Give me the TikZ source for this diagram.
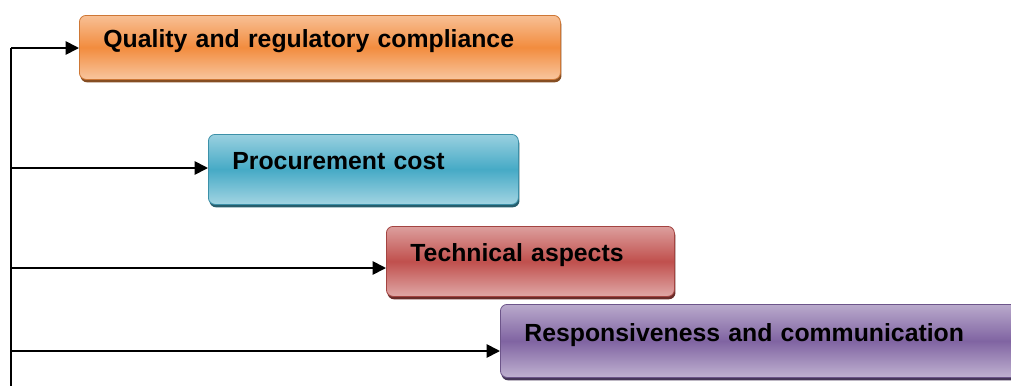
\documentclass[tikz,border=0pt]{standalone}
\usepackage{fontspec}
\setmainfont{Liberation Sans}
\usetikzlibrary{arrows.meta,shadows}

\definecolor{qualbase}{RGB}{242,140,62}
\definecolor{procbase}{RGB}{70,170,198}
\definecolor{techbase}{RGB}{192,80,77}
\definecolor{respbase}{RGB}{128,100,162}

\tikzset{
  factor/.style={rounded corners=5pt, draw=#1!85!black, line width=0.6pt,
    top color=#1!55!white, bottom color=#1!50!white, middle color=#1,
    drop shadow={shadow xshift=0.8pt, shadow yshift=-2.2pt, fill=#1!55!black, opacity=1},
    anchor=north west, inner xsep=18pt, align=left, text depth=13pt,
    font=\fontsize{18.6}{20}\selectfont\bfseries},
  flow/.style={line width=1.3pt, -{Triangle[length=10pt,width=10pt]}}
}

\begin{document}
\begin{tikzpicture}[x=0.75pt,y=-0.75pt]
\clip (0,0) rectangle (1011,386);
\foreach \x/\y/\w/\h/\c/\n/\t in {79/15/481/64/qualbase/qual/Quality and regulatory compliance,
                                  208/134/310/70/procbase/proc/Procurement cost,
                                  386/226/288/70/techbase/tech/Technical aspects,
                                  500/304/560/73/respbase/resp/Responsiveness and communication}
    \node[factor=\c, minimum width=\w*0.75pt, minimum height=\h*0.75pt,
          text width=\w*0.75pt-36pt] (\n) at (\x,\y) {\t};
% trunk on the left
\coordinate (top) at (11,48);
\coordinate (bottom) at (11,386);
\draw[line width=1.3pt] (top) -- (bottom);
\foreach \y/\n in {48/qual, 168/proc, 268/tech, 351/resp} {
    \coordinate (from-\n) at (11,\y);
    \draw[flow] (from-\n) -- (from-\n -| \n.west);
}
\end{tikzpicture}
\end{document}
